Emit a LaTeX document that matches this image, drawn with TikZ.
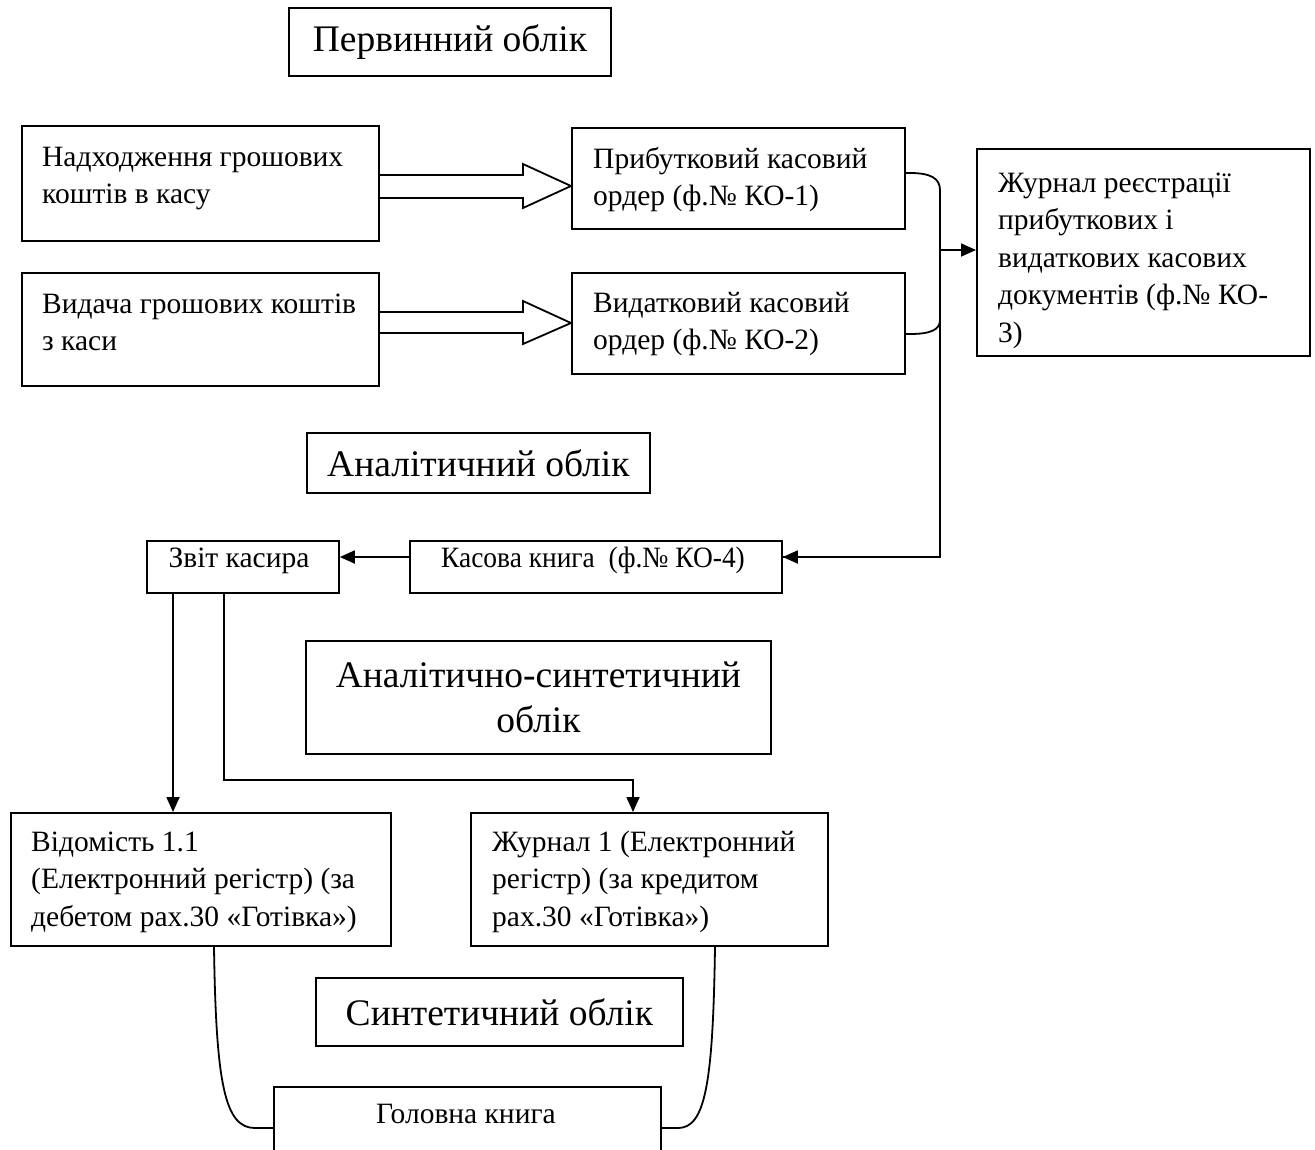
\documentclass[tikz,border=0pt]{standalone}
\usepackage{fontspec}
\setmainfont{Liberation Serif}
\usetikzlibrary{arrows.meta,calc}
\begin{document}
\begin{tikzpicture}[x=1pt,y=-1pt,
 box/.style={draw, line width=1.8pt, rectangle, inner sep=0pt, anchor=north west},
 txt/.style={inner sep=0pt, anchor=north west, align=left, font=\fontsize{29.5}{37.5}\selectfont},
 stxt/.style={inner sep=0pt, anchor=base, font=\fontsize{29.5}{35}\selectfont},
 ttl/.style={font=\fontsize{37.5}{45}\selectfont, align=center},
 ln/.style={line width=1.8pt},
 arr/.style={ln, -{Triangle[length=15pt,width=13pt]}},
 hollow/.style={line width=1.8pt, line join=miter}
]
\clip (0,0) rectangle (1315,1149);
% titles
\node[box, ttl, minimum width=322, minimum height=68] (t1) at (288,7) {Первинний облік};
\node[box, ttl, minimum width=343, minimum height=60] (t2) at (306,432) {Аналітичний облік};
\node[box, ttl, minimum width=465, minimum height=113] (t3) at (305,640) {Аналітично-синтетичний\\облік};
\node[box, ttl, minimum width=367, minimum height=68] (t4) at (315,977) {Синтетичний облік};
% boxes
\node[box, minimum width=357, minimum height=115] (n1) at (21,125) {};
\node[txt] at (42,139.75) {\strut Надходження грошових\\коштів в касу};
\node[box, minimum width=357, minimum height=113] (n2) at (21,272) {};
\node[txt] at (42,286.75) {\strut Видача грошових коштів\\з каси};
\node[box, minimum width=333, minimum height=101] (p1) at (571,127) {};
\node[txt] at (593,141.75) {\strut Прибутковий касовий\\ордер (ф.№ КО-1)};
\node[box, minimum width=333, minimum height=101] (p2) at (571,272) {};
\node[txt] at (593,285.75) {\strut Видатковий касовий\\ордер (ф.№ КО-2)};
\node[box, minimum width=333, minimum height=207] (j) at (976,148) {};
\node[txt] at (998,165.75) {\strut Журнал реєстрації\\прибуткових і\\видаткових касових\\документів (ф.№ КО-\\3)};
\node[box, minimum width=192, minimum height=52] (z) at (146,540) {};
\node[stxt] at (239,567) {Звіт касира};
\node[box, minimum width=372, minimum height=52] (k) at (409,540) {};
\node[stxt, xscale=0.93] at (593,567) {Касова книга\ \ (ф.№ КО-4)};
\node[box, minimum width=380, minimum height=133] (v) at (10,812) {};
\node[txt] at (31,824.75) {\strut Відомість 1.1\\(Електронний регістр) (за\\дебетом рах.30 «Готівка»)};
\node[box, minimum width=357, minimum height=133] (j1) at (470,812) {};
\node[txt] at (492,824.75) {\strut Журнал 1 (Електронний\\регістр) (за кредитом\\рах.30 «Готівка»)};
\node[box, minimum width=387, minimum height=120] (g) at (273,1086) {};
\node[stxt] at (466,1123) {Головна книга};
% hollow arrows
\draw[hollow] (n1.east |- 0,175) -- (523,175) -- (523,164) -- (p1.west |- 0,186) -- (523,208) -- (523,198) -- (n1.east |- 0,198);
\draw[hollow] (n2.east |- 0,312) -- (523,312) -- (523,301) -- (p2.west |- 0,323) -- (523,344) -- (523,333) -- (n2.east |- 0,333);
% bracket
\coordinate (br) at (940,250);
\draw[ln] (p1.east |- 0,173) -- (910,173) .. controls (930,173) and (940,178) .. (940,190) -- (940,557) -- (k.east |- 0,557);
\draw[arr] (940,557) -- (k.east |- 0,557);
\draw[ln] (p2.east |- 0,334) -- (910,334) .. controls (930,334) and (940,330) .. (940,320);
\draw[arr] (br) -- (j.west |- br);
% lower connectors
\draw[arr] (k.west |- 0,557) -- (z.east |- 0,557);
\draw[arr] (z.south -| 173,0) -- (v.north -| 173,0);
\draw[arr] (z.south -| 224,0) -- (224,780) -- (633,780) -- (j1.north -| 633,0);
% bottom curves
\draw[ln] (v.south -| 214,0) .. controls (216,1085) and (225,1128) .. (255,1128) -- (g.west |- 0,1128);
\draw[ln] (j1.south -| 715,0) .. controls (713,1085) and (705,1128) .. (678,1128) -- (g.east |- 0,1128);
\end{tikzpicture}
\end{document}
